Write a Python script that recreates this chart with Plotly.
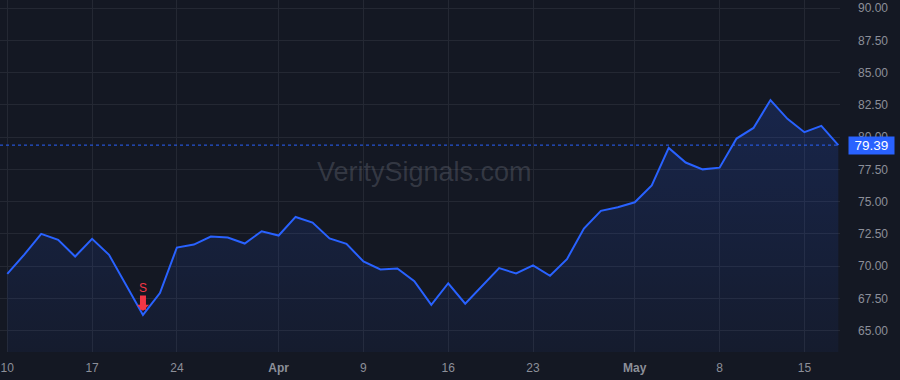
import plotly.graph_objects as go

# ---- data ----
dates = [
    "2025-03-10", "2025-03-11", "2025-03-12", "2025-03-13", "2025-03-14",
    "2025-03-17", "2025-03-18", "2025-03-19", "2025-03-20", "2025-03-21",
    "2025-03-24", "2025-03-25", "2025-03-26", "2025-03-27", "2025-03-28",
    "2025-03-31", "2025-04-01", "2025-04-02", "2025-04-03", "2025-04-07",
    "2025-04-08", "2025-04-09", "2025-04-10", "2025-04-11", "2025-04-14",
    "2025-04-15", "2025-04-16", "2025-04-17", "2025-04-18", "2025-04-21",
    "2025-04-22", "2025-04-23", "2025-04-24", "2025-04-25", "2025-04-28",
    "2025-04-29", "2025-04-30", "2025-05-01", "2025-05-02", "2025-05-05",
    "2025-05-06", "2025-05-07", "2025-05-08", "2025-05-09", "2025-05-12",
    "2025-05-13", "2025-05-14", "2025-05-15", "2025-05-16", "2025-05-19",
]
prices = [
    69.41, 70.90, 72.51, 72.04, 70.75, 72.12, 70.88, 68.53, 66.22, 67.92,
    71.45, 71.68, 72.30, 72.22, 71.76, 72.71, 72.38, 73.82, 73.38, 72.15,
    71.73, 70.37, 69.75, 69.82, 68.84, 67.01, 68.68, 67.09, 68.43, 69.85,
    69.44, 70.06, 69.26, 70.55, 72.92, 74.29, 74.57, 74.96, 76.27, 79.17,
    78.04, 77.51, 77.64, 79.90, 80.72, 82.88, 81.43, 80.39, 80.88, 79.39,
]
tick_dates = ["2025-03-10", "2025-03-17", "2025-03-24", "2025-04-01", "2025-04-09",
              "2025-04-16", "2025-04-23", "2025-05-01", "2025-05-08", "2025-05-15"]
tick_labels = ["10", "17", "24", "<b>Apr</b>", "9", "16", "23", "<b>May</b>", "8", "15"]
y_ticks = [65, 67.5, 70, 72.5, 75, 77.5, 80, 82.5, 85, 87.5, 90]
signal_dates = ["2025-03-20"]
signal_labels = ["S"]
last_price = prices[-1]
y_range = [63.35, 90.64]
x_range = [-0.43, 49.1]

# ---- style ----
BG = "#141823"
GRID = "#242833"
LINE = "#2962ff"
TXT = "#8c8f99"
RED = "#f23645"
FONT = "Liberation Sans, Arial, sans-serif"

fig = go.Figure()
fig.add_trace(go.Scatter(
    x=dates, y=prices, mode="lines",
    line=dict(color=LINE, width=2),
    fill="tozeroy",
    fillgradient=dict(type="vertical", start=y_range[0], stop=max(prices),
                      colorscale=[[0, "rgba(41,98,255,0.05)"], [1, "rgba(41,98,255,0.18)"]]),
    hoverinfo="skip", showlegend=False,
))

# last price dotted line
fig.add_shape(type="line", xref="paper", x0=0, x1=1, yref="y", y0=last_price, y1=last_price,
              line=dict(color=LINE, width=1, dash="dot"), layer="above")

# last price label
fig.add_annotation(xref="paper", x=1.0095, xanchor="left", yref="y", y=last_price, yanchor="middle",
                   text=f"{last_price:.2f}", showarrow=False, bgcolor=LINE,
                   font=dict(color="#ffffff", size=13.5, family=FONT),
                   width=41, height=13, borderpad=2, align="center")

# signal markers
for d, lab in zip(signal_dates, signal_labels):
    yv = prices[dates.index(d)]
    fig.add_annotation(x=d, y=yv, xref="x", yref="y", text=lab,
                       font=dict(color=RED, size=12, family=FONT),
                       showarrow=True, arrowhead=1, arrowwidth=6, arrowsize=0.34,
                       arrowcolor=RED, ax=0, ay=-27, standoff=4, borderpad=0)

# watermark
fig.add_annotation(xref="paper", yref="paper", x=0.505, y=0.511, text="VeritySignals.com",
                   showarrow=False, font=dict(color="rgba(120,124,136,0.32)", size=27, family=FONT),
                   xanchor="center", yanchor="middle")

fig.update_layout(
    width=900, height=380,
    margin=dict(l=0, r=60, t=0, b=28),
    paper_bgcolor=BG, plot_bgcolor=BG,
    font=dict(family=FONT, color=TXT, size=12),
    showlegend=False,
    xaxis=dict(type="category", range=x_range, tickvals=tick_dates, ticktext=tick_labels,
               showgrid=True, gridcolor=GRID, gridwidth=1, zeroline=False, showline=False,
               ticks="outside", ticklen=5, tickcolor=BG, tickfont=dict(size=12, color=TXT)),
    yaxis=dict(side="right", range=y_range, tickvals=y_ticks,
               ticktext=[f"{v:.2f}" for v in y_ticks],
               showgrid=True, gridcolor=GRID, gridwidth=1, zeroline=False, showline=False,
               ticks="", ticklabelstandoff=17, tickfont=dict(size=12, color=TXT)),
)

fig.write_html("out.html")
